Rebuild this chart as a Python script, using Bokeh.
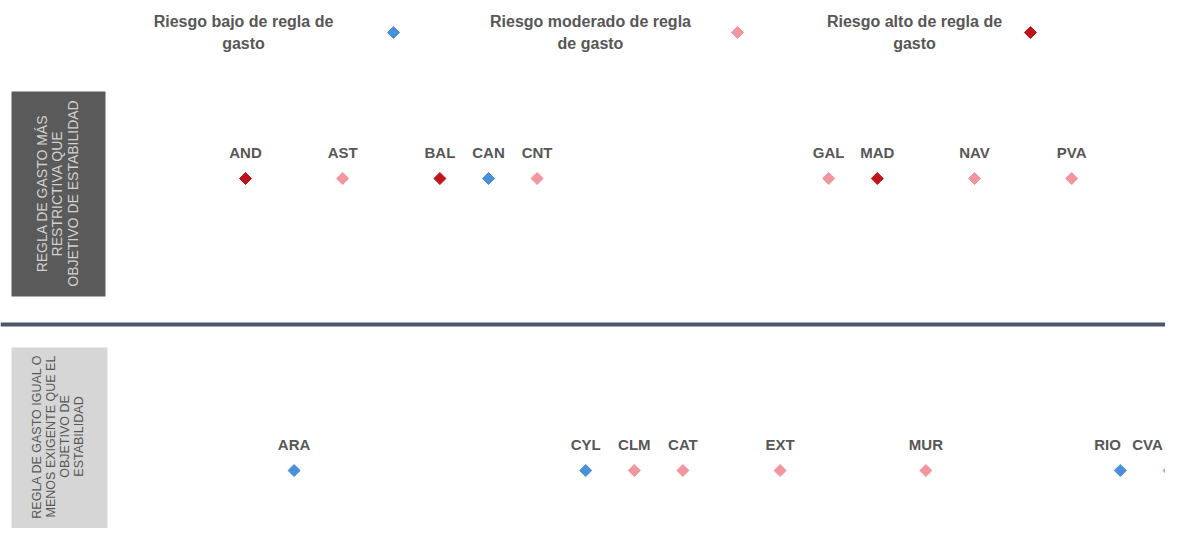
import math
from bokeh.plotting import figure
from bokeh.models import Range1d, Span, ColumnDataSource
from bokeh.core.properties import value
from bokeh.embed import file_html
from bokeh.resources import INLINE

# ---------------- data ----------------
top_codes = ["AND", "AST", "BAL", "CAN", "CNT", "GAL", "MAD", "NAV", "PVA"]
top_pos = [5, 7, 9, 10, 11, 17, 18, 20, 22]
top_risk = ["alto", "moderado", "alto", "bajo", "moderado", "moderado", "alto", "moderado", "moderado"]

bottom_codes = ["ARA", "CYL", "CLM", "CAT", "EXT", "MUR", "RIO", "CVA"]
bottom_pos = [6, 12, 13, 14, 16, 19, 23, 24]
bottom_risk = ["bajo", "bajo", "moderado", "moderado", "moderado", "moderado", "bajo", "moderado"]

risk_levels = ["bajo", "moderado", "alto"]
legend_labels = ["Riesgo bajo de regla de\ngasto",
                 "Riesgo moderado de regla\nde gasto",
                 "Riesgo alto de regla de\ngasto"]

row_labels = ["REGLA DE GASTO MÁS\nRESTRICTIVA QUE\nOBJETIVO DE ESTABILIDAD",
              "REGLA DE GASTO IGUAL O\nMENOS EXIGENTE QUE EL\nOBJETIVO DE\nESTABILIDAD"]

# ---------------- styles ----------------
risk_colors = {"bajo": "#4a8fd9", "moderado": "#f3959d", "alto": "#c0141c"}
TEXT_GRAY = "#575757"

W, H = 1165, 528
A_X, UNIT_X = 2.0, 48.6      # screen px = A_X + UNIT_X * position
ROW_Y, UNIT_Y = 470.0, 292.0  # screen px (from top) = ROW_Y - UNIT_Y * row


def X(px):
    return (px - A_X) / UNIT_X


def Y(py):
    return (ROW_Y - py) / UNIT_Y


x_start, x_end = X(0), X(W)
y_start, y_end = Y(H), Y(0)

p = figure(width=W, height=H, output_backend="svg", toolbar_location=None,
           x_range=Range1d(x_start, x_end), y_range=Range1d(y_start, y_end),
           min_border=0)
p.axis.visible = False
p.xgrid.visible = False
p.ygrid.visible = False
p.outline_line_color = None
p.background_fill_color = "white"
p.border_fill_color = "white"

# side panels
p.quad(left=[X(11)], right=[X(105)], top=[Y(91)], bottom=[Y(296)],
       fill_color="#5a5a5a", line_color=None)
p.quad(left=[X(11)], right=[X(107)], top=[Y(347)], bottom=[Y(560)],
       fill_color="#d6d6d6", line_color=None)

p.text(x=[X(57)], y=[Y(193)], text=[row_labels[0]], angle=math.pi / 2,
       text_align="center", text_baseline="middle",
       text_font=value("Liberation Sans"), text_font_size="14px",
       text_color="#d2d2d2", text_line_height=0.95)
p.text(x=[X(57)], y=[Y(436)], text=[row_labels[1]], angle=math.pi / 2,
       text_align="center", text_baseline="middle",
       text_font=value("Liberation Sans"), text_font_size="12.5px",
       text_color=TEXT_GRAY, text_line_height=1.0)

# separator line between rows
p.add_layout(Span(location=0.5, dimension="width", line_color="#4b5769", line_width=4))


# points
def add_row(codes, pos, risk, row):
    # keep labels inside the frame and apart from each other
    half_w = 18 / UNIT_X
    gap = 40 / UNIT_X
    label_x = list(pos)
    label_x[-1] = min(label_x[-1], x_end - half_w)
    for i in range(len(label_x) - 2, -1, -1):
        label_x[i] = min(label_x[i], label_x[i + 1] - gap)
    src = ColumnDataSource(dict(
        x=pos, lx=label_x, y=[row] * len(pos), code=codes,
        color=[risk_colors[r] for r in risk]))
    p.scatter(x="x", y="y", source=src, marker="square", angle=math.pi / 4,
              size=8.5, fill_color="color", line_color="color")
    p.text(x="lx", y="y", text="code", source=src, y_offset=-26,
           text_align="center", text_baseline="middle",
           text_font=value("Liberation Sans"), text_font_style="bold",
           text_font_size="15px", text_color=TEXT_GRAY)


add_row(top_codes, top_pos, top_risk, 1)
add_row(bottom_codes, bottom_pos, bottom_risk, 0)

# legend
leg_text_x = [X(243), X(590), X(914)]
leg_mark_x = [X(393), X(737), X(1030)]
leg_y = Y(32)
p.text(x=leg_text_x, y=[leg_y] * 3, text=legend_labels,
       text_align="center", text_baseline="middle",
       text_font=value("Liberation Sans"), text_font_style="bold",
       text_font_size="16px", text_color=TEXT_GRAY, text_line_height=1.3)
p.scatter(x=leg_mark_x, y=[leg_y] * 3, marker="square", angle=math.pi / 4, size=8.5,
          fill_color=[risk_colors[r] for r in risk_levels],
          line_color=[risk_colors[r] for r in risk_levels])

open("out.html", "w").write(file_html(p, INLINE))
